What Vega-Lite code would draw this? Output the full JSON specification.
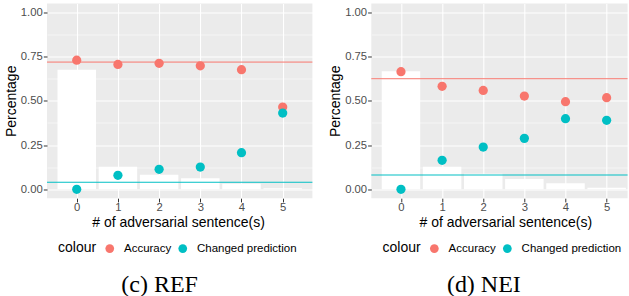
{
  "$schema": "https://vega.github.io/schema/vega-lite/v6.json",
  "background": "white",
  "padding": {"left": 4, "top": 3.5, "right": 0, "bottom": 0},
  "datasets": {
    "bars": [
      {"panel": "REF", "n": 0, "share": 0.676},
      {"panel": "REF", "n": 1, "share": 0.128},
      {"panel": "REF", "n": 2, "share": 0.083},
      {"panel": "REF", "n": 3, "share": 0.062},
      {"panel": "REF", "n": 4, "share": 0.032},
      {"panel": "REF", "n": 5, "share": 0.006},
      {"panel": "NEI", "n": 0, "share": 0.667},
      {"panel": "NEI", "n": 1, "share": 0.128},
      {"panel": "NEI", "n": 2, "share": 0.088},
      {"panel": "NEI", "n": 3, "share": 0.058},
      {"panel": "NEI", "n": 4, "share": 0.034},
      {"panel": "NEI", "n": 5, "share": 0.009}
    ],
    "points": [
      {"panel": "REF", "n": 0, "colour": "Accuracy", "value": 0.730},
      {"panel": "REF", "n": 1, "colour": "Accuracy", "value": 0.706},
      {"panel": "REF", "n": 2, "colour": "Accuracy", "value": 0.712},
      {"panel": "REF", "n": 3, "colour": "Accuracy", "value": 0.698},
      {"panel": "REF", "n": 4, "colour": "Accuracy", "value": 0.676},
      {"panel": "REF", "n": 5, "colour": "Accuracy", "value": 0.465},
      {"panel": "REF", "n": 0, "colour": "Changed prediction", "value": 0.000},
      {"panel": "REF", "n": 1, "colour": "Changed prediction", "value": 0.079},
      {"panel": "REF", "n": 2, "colour": "Changed prediction", "value": 0.113},
      {"panel": "REF", "n": 3, "colour": "Changed prediction", "value": 0.126},
      {"panel": "REF", "n": 4, "colour": "Changed prediction", "value": 0.207},
      {"panel": "REF", "n": 5, "colour": "Changed prediction", "value": 0.431},
      {"panel": "NEI", "n": 0, "colour": "Accuracy", "value": 0.665},
      {"panel": "NEI", "n": 1, "colour": "Accuracy", "value": 0.582},
      {"panel": "NEI", "n": 2, "colour": "Accuracy", "value": 0.559},
      {"panel": "NEI", "n": 3, "colour": "Accuracy", "value": 0.527},
      {"panel": "NEI", "n": 4, "colour": "Accuracy", "value": 0.495},
      {"panel": "NEI", "n": 5, "colour": "Accuracy", "value": 0.518},
      {"panel": "NEI", "n": 0, "colour": "Changed prediction", "value": 0.000},
      {"panel": "NEI", "n": 1, "colour": "Changed prediction", "value": 0.164},
      {"panel": "NEI", "n": 2, "colour": "Changed prediction", "value": 0.239},
      {"panel": "NEI", "n": 3, "colour": "Changed prediction", "value": 0.288},
      {"panel": "NEI", "n": 4, "colour": "Changed prediction", "value": 0.399},
      {"panel": "NEI", "n": 5, "colour": "Changed prediction", "value": 0.390}
    ],
    "lines": [
      {"panel": "REF", "colour": "Accuracy", "value": 0.719},
      {"panel": "REF", "colour": "Changed prediction", "value": 0.040},
      {"panel": "NEI", "colour": "Accuracy", "value": 0.625},
      {"panel": "NEI", "colour": "Changed prediction", "value": 0.081}
    ]
  },
  "config": {
    "font": "Liberation Sans",
    "view": {"fill": "#EBEBEB", "stroke": null},
    "axis": {
      "domain": false,
      "gridColor": "white",
      "gridWidth": 1.1,
      "tickColor": "#333333",
      "tickSize": 3.7,
      "tickWidth": 1,
      "labelColor": "#4D4D4D",
      "labelFont": "Liberation Sans",
      "labelFontSize": 11.3,
      "labelPadding": 1,
      "titleFont": "Liberation Sans",
      "titleFontSize": 14,
      "titleFontWeight": "normal",
      "titleColor": "black"
    },
    "legend": {
      "orient": "none",
      "direction": "horizontal",
      "titleOrient": "left",
      "titleFont": "Liberation Sans",
      "titleFontSize": 14,
      "titleFontWeight": "normal",
      "titleColor": "black",
      "titlePadding": 7,
      "labelFont": "Liberation Sans",
      "labelFontSize": 11.5,
      "labelColor": "black",
      "labelOffset": 8.5,
      "columnPadding": 5,
      "symbolSize": 76,
      "symbolType": "circle",
      "symbolStrokeWidth": 0,
      "symbolOpacity": 1
    },
    "title": {
      "font": "Liberation Serif",
      "fontSize": 24,
      "fontWeight": "normal",
      "color": "black"
    }
  },
  "bounds": "flush",
  "spacing": 58.3,
  "resolve": {"legend": {"color": "independent"}, "scale": {"color": "independent"}},
  "hconcat": [
    {
      "width": 265.4,
      "height": 194.7,
      "title": {"text": "(c) REF", "orient": "bottom", "anchor": "start", "frame": "group", "dx": 74.3, "offset": 18},
      "resolve": {"scale": {"y": "independent"}, "axis": {"y": "independent"}},
      "layer": [
        {
          "data": {"name": "bars"},
          "transform": [{"filter": "datum.panel === 'REF'"}],
          "mark": {"type": "bar", "color": "white", "size": 38.5, "orient": "vertical", "clip": true},
          "encoding": {
            "x": {"field": "n", "type": "quantitative", "scale": {"domain": [-0.6, 5.6], "nice": false, "zero": false},
              "axis": {"values": [0, 1, 2, 3, 4, 5], "format": "d", "grid": true, "title": "# of adversarial sentence(s)", "labelPadding": 0, "titlePadding": 2, "titleX": 131}},
            "y": {"field": "share", "type": "quantitative", "scale": {"domain": [-0.05, 1.05], "nice": false, "zero": false},
              "axis": {"orient": "right", "values": [0.125, 0.375, 0.625, 0.875], "grid": true, "gridWidth": 0.55, "labels": false, "ticks": false, "title": null, "minExtent": 0, "maxExtent": 0, "offset": 0}},
            "y2": {"datum": 0}
          }
        },
        {
          "data": {"name": "lines"},
          "transform": [{"filter": "datum.panel === 'REF'"}],
          "mark": {"type": "rule", "strokeWidth": 1},
          "encoding": {
            "y": {"field": "value", "type": "quantitative", "scale": {"domain": [-0.05, 1.05], "nice": false, "zero": false}, "axis": null},
            "stroke": {"field": "colour", "type": "nominal", "legend": null,
              "scale": {"domain": ["Accuracy", "Changed prediction"], "range": ["#F8766D", "#00BFC4"]}}
          }
        },
        {
          "data": {"name": "points"},
          "transform": [{"filter": "datum.panel === 'REF'"}],
          "mark": {"type": "point", "filled": true, "opacity": 1, "size": 85},
          "encoding": {
            "x": {"field": "n", "type": "quantitative"},
            "y": {"field": "value", "type": "quantitative", "scale": {"domain": [-0.05, 1.05], "nice": false, "zero": false},
              "axis": {"values": [0, 0.25, 0.5, 0.75, 1], "format": ".2f", "grid": true, "title": "Percentage", "titlePadding": 2}},
            "color": {"field": "colour", "type": "nominal",
              "scale": {"domain": ["Accuracy", "Changed prediction"], "range": ["#F8766D", "#00BFC4"]},
              "legend": {"title": "colour", "legendX": 11, "legendY": 239}}
          }
        }
      ]
    },
    {
      "width": 256.3,
      "height": 194.7,
      "title": {"text": "(d) NEI", "orient": "bottom", "anchor": "start", "frame": "group", "dx": 75.6, "offset": 18},
      "resolve": {"scale": {"y": "independent"}, "axis": {"y": "independent"}},
      "layer": [
        {
          "data": {"name": "bars"},
          "transform": [{"filter": "datum.panel === 'NEI'"}],
          "mark": {"type": "bar", "color": "white", "size": 38.5, "orient": "vertical", "clip": true},
          "encoding": {
            "x": {"field": "n", "type": "quantitative", "scale": {"domain": [-0.6, 5.388], "nice": false, "zero": false},
              "axis": {"values": [0, 1, 2, 3, 4, 5], "format": "d", "grid": true, "title": "# of adversarial sentence(s)", "labelPadding": 0, "titlePadding": 2, "titleX": 134}},
            "y": {"field": "share", "type": "quantitative", "scale": {"domain": [-0.05, 1.05], "nice": false, "zero": false},
              "axis": {"orient": "right", "values": [0.125, 0.375, 0.625, 0.875], "grid": true, "gridWidth": 0.55, "labels": false, "ticks": false, "title": null, "minExtent": 0, "maxExtent": 0, "offset": 0}},
            "y2": {"datum": 0}
          }
        },
        {
          "data": {"name": "lines"},
          "transform": [{"filter": "datum.panel === 'NEI'"}],
          "mark": {"type": "rule", "strokeWidth": 1},
          "encoding": {
            "y": {"field": "value", "type": "quantitative", "scale": {"domain": [-0.05, 1.05], "nice": false, "zero": false}, "axis": null},
            "stroke": {"field": "colour", "type": "nominal", "legend": null,
              "scale": {"domain": ["Accuracy", "Changed prediction"], "range": ["#F8766D", "#00BFC4"]}}
          }
        },
        {
          "data": {"name": "points"},
          "transform": [{"filter": "datum.panel === 'NEI'"}],
          "mark": {"type": "point", "filled": true, "opacity": 1, "size": 85},
          "encoding": {
            "x": {"field": "n", "type": "quantitative"},
            "y": {"field": "value", "type": "quantitative", "scale": {"domain": [-0.05, 1.05], "nice": false, "zero": false},
              "axis": {"values": [0, 0.25, 0.5, 0.75, 1], "format": ".2f", "grid": true, "title": "Percentage", "titlePadding": 2}},
            "color": {"field": "colour", "type": "nominal",
              "scale": {"domain": ["Accuracy", "Changed prediction"], "range": ["#F8766D", "#00BFC4"]},
              "legend": {"title": "colour", "legendX": 11.3, "legendY": 239}}
          }
        }
      ]
    }
  ]
}
